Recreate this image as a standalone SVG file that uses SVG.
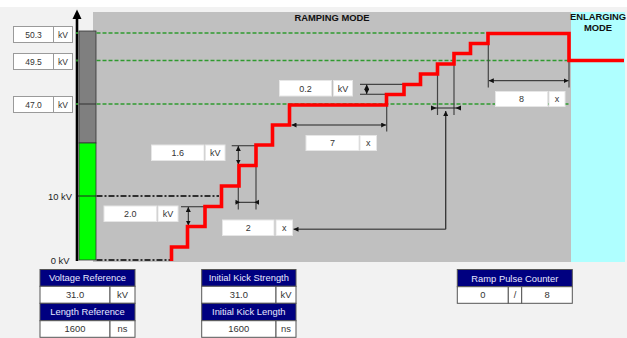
<svg xmlns="http://www.w3.org/2000/svg" width="627" height="338" viewBox="0 0 627 338">
<style>
text{font-family:"Liberation Sans",Arial,sans-serif}
.v{font-size:9px;fill:#333;text-anchor:middle}
.lv{font-size:8.5px;fill:#333;text-anchor:middle}
.bx{fill:#fff;stroke:#e6e6e6;stroke-width:1}
.lb{fill:#fff;stroke:#9a9a9a;stroke-width:1}
.hd{fill:#000080;stroke:#555;stroke-width:1}
.ht{font-size:9.4px;fill:#e8e8ff;text-anchor:middle}
.cell{fill:#fff;stroke:#555;stroke-width:1}
.ct{font-size:9.4px;fill:#333;text-anchor:middle}
.gd{stroke:#2f9a2f;stroke-width:1.4;stroke-dasharray:4 2;fill:none}
.dd{stroke:#000;stroke-width:1.5;stroke-dasharray:6 2 2 2;fill:none}
.dim{stroke:#222;stroke-width:1;fill:none}
.ext{stroke:#444;stroke-width:1.2;fill:none}
.ttl{font-size:9.4px;font-weight:bold;fill:#111;text-anchor:middle}
</style>
<defs>
<marker id="a" viewBox="0 0 6 6" refX="6" refY="3" markerWidth="5" markerHeight="5" orient="auto-start-reverse" markerUnits="userSpaceOnUse"><path d="M0,0 L6,3 L0,6 z" fill="#111"/></marker>
</defs>
<rect x="0" y="0" width="627" height="338" fill="#f2f2f2"/>
<rect x="0" y="0" width="627" height="7" fill="#fff"/>
<g id="ramping-panel">
<rect x="93" y="12" width="478" height="250" fill="#c0c0c0"/>
<text class="ttl" x="332" y="21">RAMPING MODE</text>
</g>
<g id="enlarging-panel">
<rect x="571" y="12" width="54" height="250" fill="#afffff"/>
<text class="ttl" x="598" y="20" font-size="9">ENLARGING</text>
<text class="ttl" x="598" y="31">MODE</text>
</g>
<g id="gauge">
<rect x="79" y="31" width="17" height="112" fill="#7f7f7f" stroke="#333" stroke-width="0.8"/>
<rect x="79" y="143" width="17" height="117" fill="#00ff00" stroke="#333" stroke-width="0.8"/>
<line x1="79" y1="104" x2="96" y2="104" stroke="#333" stroke-width="1"/>
<line x1="77" y1="196" x2="96" y2="196" stroke="#222" stroke-width="1"/>
<line x1="77" y1="261" x2="77" y2="17" stroke="#000" stroke-width="2.6"/>
<path d="M72.5,19 L77,9.5 L81.5,19 z" fill="#000"/>
<rect x="76" y="32" width="2" height="2" fill="#2a8a2a"/>
<rect x="76" y="59.5" width="2" height="2" fill="#2a8a2a"/>
<rect x="76" y="103" width="2" height="2" fill="#2a8a2a"/>
<text x="72" y="199.5" font-size="9.4" fill="#222" text-anchor="end">10 kV</text>
<text x="69.5" y="263.5" font-size="9.4" fill="#222" text-anchor="end">0 kV</text>
</g>
<g id="level-50-3">
<rect class="lb" x="13.5" y="26.5" width="40" height="16"/><text class="lv" x="33.5" y="37.5">50.3</text>
<rect class="lb" x="53.5" y="26.5" width="19" height="16"/><text class="lv" x="63" y="37.5">kV</text>
</g>
<g id="level-49-5">
<rect class="lb" x="13.5" y="53.5" width="40" height="16"/><text class="lv" x="33.5" y="64.5">49.5</text>
<rect class="lb" x="53.5" y="53.5" width="19" height="16"/><text class="lv" x="63" y="64.5">kV</text>
</g>
<g id="level-47-0">
<rect class="lb" x="13.5" y="96.5" width="40" height="16"/><text class="lv" x="33.5" y="107.5">47.0</text>
<rect class="lb" x="53.5" y="96.5" width="19" height="16"/><text class="lv" x="63" y="107.5">kV</text>
</g>
<g id="reference-lines">
<line class="gd" x1="96.5" y1="33" x2="570" y2="33"/>
<line class="gd" x1="96.5" y1="60.5" x2="570" y2="60.5"/>
<line class="gd" x1="96.5" y1="104" x2="570" y2="104"/>
<line class="dd" x1="96.5" y1="196" x2="219" y2="196"/>
<line class="dd" x1="96.5" y1="260" x2="171" y2="260"/>
</g>
<g id="connectors">
<line class="ext" x1="181" y1="206.7" x2="205" y2="206.7"/>
<line class="dim" x1="188.3" y1="207" x2="188.3" y2="225.5" marker-start="url(#a)" marker-end="url(#a)"/>
<line class="ext" x1="231.7" y1="145.7" x2="256" y2="145.7"/>
<line class="dim" x1="238.3" y1="146" x2="238.3" y2="164.5" marker-start="url(#a)" marker-end="url(#a)"/>
<line class="ext" x1="238.3" y1="165" x2="238.3" y2="209.5"/>
<line class="ext" x1="256" y1="145" x2="256" y2="209.5"/>
<line class="dim" x1="235.5" y1="202.3" x2="259" y2="202.3"/>
<path d="M235.5,199.8 L240,202.3 L235.5,204.8 z" fill="#111"/>
<path d="M259,199.8 L254.5,202.3 L259,204.8 z" fill="#111"/>
<line class="ext" x1="360" y1="84.3" x2="404" y2="84.3"/>
<line class="ext" x1="360" y1="94.3" x2="387" y2="94.3"/>
<line class="dim" x1="366.7" y1="84.5" x2="366.7" y2="94" marker-start="url(#a)" marker-end="url(#a)"/>
<line class="ext" x1="386.7" y1="95" x2="386.7" y2="131.5" stroke="#555"/>
<line class="dim" x1="291.5" y1="125" x2="386.2" y2="125" marker-start="url(#a)" marker-end="url(#a)"/>
<line class="ext" x1="488.3" y1="34" x2="488.3" y2="87.5" stroke="#555"/>
<line class="ext" x1="569" y1="61" x2="569" y2="87.5" stroke="#555"/>
<line class="dim" x1="488.8" y1="80.7" x2="568.5" y2="80.7" marker-start="url(#a)" marker-end="url(#a)"/>
<line class="ext" x1="437.5" y1="75" x2="437.5" y2="115"/>
<line class="ext" x1="454" y1="65" x2="454" y2="115"/>
<line class="dim" x1="431" y1="108" x2="461" y2="108"/>
<path d="M431,105.5 L436.5,108 L431,110.5 z" fill="#111"/>
<path d="M461,105.5 L455.5,108 L461,110.5 z" fill="#111"/>
<path d="M445.7,229.3 H293.5" stroke="#555" stroke-width="1.5" fill="none" marker-end="url(#a)"/>
<path d="M445.7,229.3 V111" stroke="#333" stroke-width="1.3" fill="none" marker-end="url(#a)"/>
</g>
<g id="ramp-curve">
<path d="M171.5,261 V247 H187.5 V226.5 H205 V206.5 H221.5 V186 H239 V165.5 H256 V145 H272.5 V125 H289.5 V105 H386.5 V94.5 H404 V84.5 H420.5 V74 H437.5 V64 H454 V53.5 H470.5 V43.5 H488 V33.5 H569 V60.5 H624" fill="none" stroke="#ff0000" stroke-width="3.6"/>
</g>
<g id="step-2-0">
<rect class="bx" x="104" y="206" width="52.5" height="15.5"/><text class="v" x="130.3" y="217">2.0</text>
<rect class="bx" x="158" y="206" width="20" height="15.5"/><text class="v" x="168" y="217">kV</text>
</g>
<g id="step-1-6">
<rect class="bx" x="151.5" y="145" width="52.5" height="15.5"/><text class="v" x="177.8" y="156">1.6</text>
<rect class="bx" x="205.5" y="145" width="19.5" height="15.5"/><text class="v" x="215.2" y="156">kV</text>
</g>
<g id="step-0-2">
<rect class="bx" x="279.5" y="80.5" width="52" height="15.5"/><text class="v" x="305.5" y="91.5">0.2</text>
<rect class="bx" x="333.5" y="80.5" width="19" height="15.5"/><text class="v" x="343" y="91.5">kV</text>
</g>
<g id="count-7">
<rect class="bx" x="306" y="135.5" width="53" height="15"/><text class="v" x="332.5" y="146.3">7</text>
<rect class="bx" x="360" y="135.5" width="16.5" height="15"/><text class="v" x="368.2" y="146.3">x</text>
</g>
<g id="count-2">
<rect class="bx" x="222.5" y="220" width="51.5" height="15.5"/><text class="v" x="248.2" y="231">2</text>
<rect class="bx" x="276" y="220" width="16.5" height="15.5"/><text class="v" x="284.2" y="231">x</text>
</g>
<g id="count-8">
<rect class="bx" x="495.5" y="91.5" width="52" height="15"/><text class="v" x="521.5" y="102.3">8</text>
<rect class="bx" x="549" y="91.5" width="16" height="15"/><text class="v" x="557" y="102.3">x</text>
</g>
<g id="voltage-reference">
<rect class="hd" x="40" y="269.5" width="95" height="16.8"/><text class="ht" x="87.5" y="281.3">Voltage Reference</text>
<rect class="cell" x="40" y="286.3" width="70" height="17"/><text class="ct" x="75" y="298">31.0</text>
<rect class="cell" x="110" y="286.3" width="25" height="17"/><text class="ct" x="122.5" y="298" font-size="8.5">kV</text>
</g>
<g id="length-reference">
<rect class="hd" x="40" y="303.3" width="95" height="17.4"/><text class="ht" x="87.5" y="315.3">Length Reference</text>
<rect class="cell" x="40" y="320.7" width="70" height="16.6"/><text class="ct" x="75" y="332.3">1600</text>
<rect class="cell" x="110" y="320.7" width="25" height="16.6"/><text class="ct" x="122.5" y="332.3">ns</text>
</g>
<g id="initial-kick-strength">
<rect class="hd" x="201.7" y="269.5" width="94.3" height="16.8"/><text class="ht" x="248.8" y="281.3">Initial Kick Strength</text>
<rect class="cell" x="201.7" y="286.3" width="74.3" height="17"/><text class="ct" x="238.8" y="298">31.0</text>
<rect class="cell" x="276" y="286.3" width="20" height="17"/><text class="ct" x="286" y="298" font-size="8.5">kV</text>
</g>
<g id="initial-kick-length">
<rect class="hd" x="201.7" y="303.3" width="94.3" height="17.4"/><text class="ht" x="248.8" y="315.3">Initial Kick Length</text>
<rect class="cell" x="201.7" y="320.7" width="74.3" height="16.6"/><text class="ct" x="238.8" y="332.3">1600</text>
<rect class="cell" x="276" y="320.7" width="20" height="16.6"/><text class="ct" x="286" y="332.3">ns</text>
</g>
<g id="ramp-pulse-counter">
<rect class="hd" x="457.3" y="269.5" width="115" height="17.2"/><text class="ht" x="514.8" y="281.5">Ramp Pulse Counter</text>
<rect class="cell" x="457.3" y="286.7" width="51" height="16.6"/><text class="ct" x="482.8" y="298.3">0</text>
<rect class="cell" x="508.3" y="286.7" width="13.4" height="16.6"/><text class="ct" x="515" y="298.3">/</text>
<rect class="cell" x="521.7" y="286.7" width="50.6" height="16.6"/><text class="ct" x="547" y="298.3">8</text>
</g>
</svg>
